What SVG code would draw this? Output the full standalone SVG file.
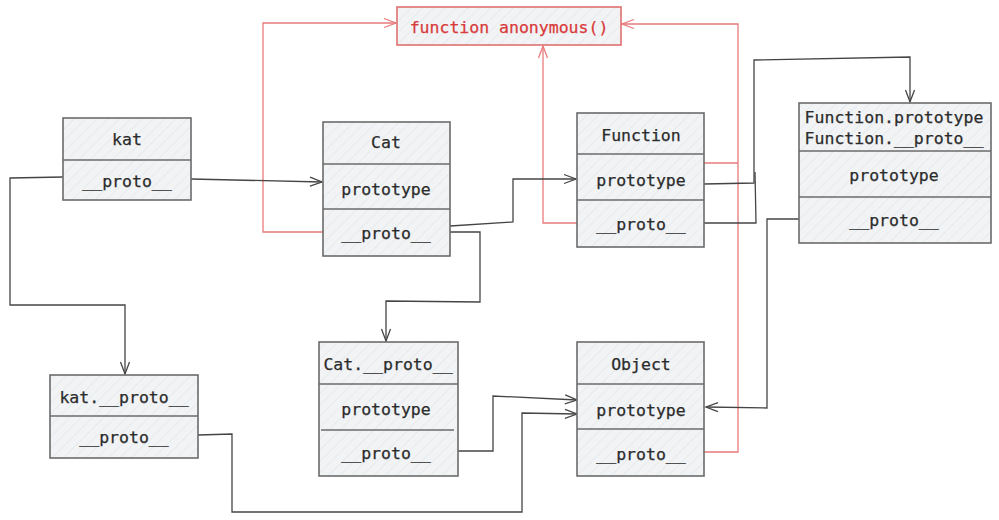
<svg xmlns="http://www.w3.org/2000/svg" width="999" height="520" viewBox="0 0 999 520">
<style>
.box{fill:url(#hatch);stroke:#6b6b6b;stroke-width:1.6}
.div{stroke:#6b6b6b;stroke-width:1.6;fill:none}
.t{font-family:"DejaVu Sans Mono","Liberation Mono",monospace;font-size:16.5px;fill:#2b2b2b;stroke:#2b2b2b;stroke-width:0.25;text-anchor:middle;dominant-baseline:central}
.rt{font-family:"DejaVu Sans Mono","Liberation Mono",monospace;font-size:16.5px;fill:#d93a3a;stroke:#d93a3a;stroke-width:0.25;text-anchor:middle;dominant-baseline:central}
.rbox{fill:url(#hatch);stroke:#e07070;stroke-width:1.6}
.c{fill:none;stroke:#454545;stroke-width:1.3}
.r{fill:none;stroke:#e87a7a;stroke-width:1.3}
</style>
<defs>
<pattern id="hatch" patternUnits="userSpaceOnUse" width="8" height="8" patternTransform="rotate(45)">
<rect width="8" height="8" fill="#f1f3f5"/>
<line x1="0" y1="0" x2="0" y2="8" stroke="#e0e3e6" stroke-width="1"/>
</pattern>
<marker id="ab" markerUnits="userSpaceOnUse" markerWidth="16" markerHeight="12" refX="13" refY="6" orient="auto">
<path d="M1,1.5 L13,6 L1,10.5" fill="none" stroke="#454545" stroke-width="1.3"/>
</marker>
<marker id="ar" markerUnits="userSpaceOnUse" markerWidth="16" markerHeight="12" refX="13" refY="6" orient="auto">
<path d="M1,1.5 L13,6 L1,10.5" fill="none" stroke="#e87a7a" stroke-width="1.3"/>
</marker>
</defs>

<g id="connectors">
<path class="r" d="M323,232 L263,232 L263,23 L396,23" marker-end="url(#ar)"/>
<path class="r" d="M577,223 L543,223 L543,46" marker-end="url(#ar)"/>
<path class="r" d="M704,452 L738,452 L738,24 L622,24" marker-end="url(#ar)"/>
<path class="r" d="M704,163 L738,163"/>
<path class="c" d="M191,179 L322,182" marker-end="url(#ab)"/>
<path class="c" d="M63,177 L10,178 L10,305 L125,305 L125,374" marker-end="url(#ab)"/>
<path class="c" d="M450,226 L513,222 L513,179 L576,179" marker-end="url(#ab)"/>
<path class="c" d="M450,232 L480,232 L480,302 L386,301 L386,341" marker-end="url(#ab)"/>
<path class="c" d="M704,184 L754,183 L754,60 L910,57 L910,102" marker-end="url(#ab)"/>
<path class="c" d="M704,223 L756,223 L755,172"/>
<path class="c" d="M799,219 L767,219 L767,408 L706,407" marker-end="url(#ab)"/>
<path class="c" d="M458,451 L493,451 L493,396 L577,400" marker-end="url(#ab)"/>
<path class="c" d="M198,435 L232,434 L232,512 L522,512 L522,413 L577,414" marker-end="url(#ab)"/>
</g>

<g id="anonymous">
<rect class="rbox" x="397" y="7" width="224" height="38"/>
<text class="rt" x="509" y="27">function anonymous()</text>
</g>

<g id="kat">
<rect class="box" x="63" y="118" width="128" height="82"/>
<line class="div" x1="63" y1="160" x2="191" y2="160"/>
<text class="t" x="127" y="139">kat</text>
<text class="t" x="127" y="181">__proto__</text>
</g>

<g id="Cat">
<rect class="box" x="323" y="122" width="127" height="134"/>
<line class="div" x1="323" y1="164" x2="450" y2="164"/>
<line class="div" x1="323" y1="209" x2="450" y2="209"/>
<text class="t" x="386" y="142">Cat</text>
<text class="t" x="386" y="189">prototype</text>
<text class="t" x="386" y="233">__proto__</text>
</g>

<g id="Function">
<rect class="box" x="577" y="113" width="127" height="134"/>
<line class="div" x1="577" y1="154" x2="704" y2="154"/>
<line class="div" x1="577" y1="200" x2="704" y2="200"/>
<text class="t" x="641" y="135">Function</text>
<text class="t" x="641" y="180">prototype</text>
<text class="t" x="641" y="224">__proto__</text>
</g>

<g id="FunctionPrototype">
<rect class="box" x="799" y="103" width="192" height="140"/>
<line class="div" x1="799" y1="151" x2="991" y2="151"/>
<line class="div" x1="799" y1="197" x2="991" y2="197"/>
<text class="t" x="894" y="117">Function.prototype</text>
<text class="t" x="894" y="138">Function.__proto__</text>
<text class="t" x="894" y="175">prototype</text>
<text class="t" x="894" y="220">__proto__</text>
</g>

<g id="katProto">
<rect class="box" x="50" y="375" width="148" height="83"/>
<line class="div" x1="50" y1="416" x2="198" y2="416"/>
<text class="t" x="124" y="397">kat.__proto__</text>
<text class="t" x="124" y="437">__proto__</text>
</g>

<g id="CatProto">
<rect class="box" x="319" y="342" width="139" height="134"/>
<line class="div" x1="319" y1="384" x2="458" y2="384"/>
<line class="div" x1="321" y1="430" x2="454" y2="430"/>
<text class="t" x="388" y="364">Cat.__proto__</text>
<text class="t" x="386" y="409">prototype</text>
<text class="t" x="386" y="453">__proto__</text>
</g>

<g id="Object">
<rect class="box" x="577" y="342" width="127" height="134"/>
<line class="div" x1="577" y1="384" x2="704" y2="384"/>
<line class="div" x1="577" y1="429" x2="704" y2="429"/>
<text class="t" x="641" y="364">Object</text>
<text class="t" x="641" y="410">prototype</text>
<text class="t" x="641" y="454">__proto__</text>
</g>
</svg>
